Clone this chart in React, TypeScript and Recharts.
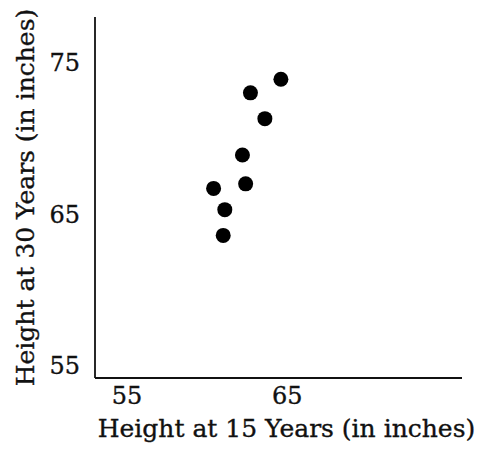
import React from "react";
import { ScatterChart, Scatter, XAxis, YAxis, Label } from "recharts";

const age15: number[] = [64.6, 62.7, 63.6, 62.2, 62.4, 60.4, 61.1, 61.0];
const age30: number[] = [73.9, 73.0, 71.3, 68.9, 67.0, 66.7, 65.3, 63.6];
const xTicks: number[] = [55, 65];
const yTicks: number[] = [55, 65, 75];

const data = age15.map((x, i) => ({ x, y: age30[i] }));

const FONT = "'DejaVu Serif', 'Liberation Serif', serif";
const textStyle = { fill: "#111", stroke: "#111", strokeWidth: 0.35, fontFamily: FONT };

const Dot = (props: any) => <circle cx={props.cx} cy={props.cy} r={7.5} fill="#000" />;

export default function App() {
  return (
    <div style={{ position: "absolute", left: 0, top: 0, background: "#fff" }}>
      <ScatterChart width={480} height={449} margin={{ top: 17, right: 18, bottom: 0, left: 0 }}>
        <XAxis
          type="number"
          dataKey="x"
          domain={[53, 75.9]}
          ticks={xTicks}
          height={71}
          tickLine={false}
          tickSize={0}
          tickMargin={9}
          axisLine={{ stroke: "#111", strokeWidth: 1.8 }}
          tick={{ ...textStyle, fontSize: 24 }}
          allowDataOverflow
        >
          <Label
            value="Height at 15 Years (in inches)"
            position="insideBottom"
            offset={12}
            dx={8}
            style={{ ...textStyle, fontSize: 25 }}
          />
        </XAxis>
        <YAxis
          type="number"
          dataKey="y"
          domain={[54.2, 78]}
          ticks={yTicks}
          width={95}
          tickLine={false}
          tickSize={0}
          tickMargin={15}
          axisLine={{ stroke: "#111", strokeWidth: 1.8 }}
          tick={{ ...textStyle, fontSize: 24 }}
          allowDataOverflow
        >
          <Label
            value="Height at 30 Years (in inches)"
            position="insideLeft"
            angle={-90}
            offset={25}
            style={{ ...textStyle, fontSize: 25, textAnchor: "middle" }}
          />
        </YAxis>
        <Scatter data={data} shape={Dot} isAnimationActive={false} />
      </ScatterChart>
    </div>
  );
}
